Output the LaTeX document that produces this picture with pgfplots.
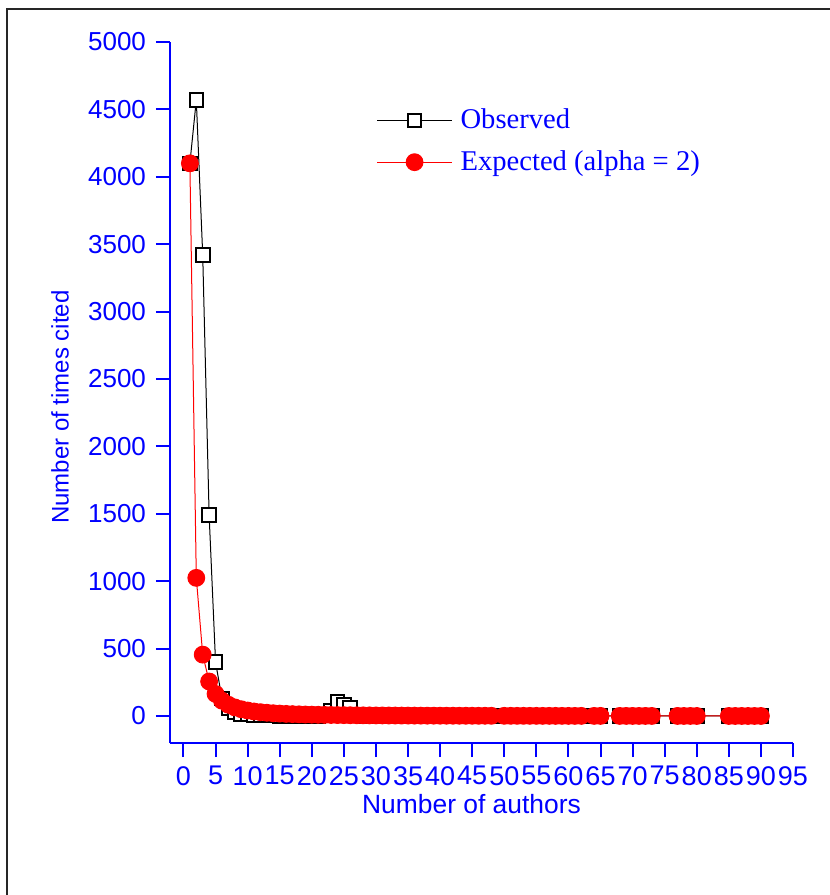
\documentclass[border=0pt]{standalone}
\usepackage{fontspec}
\setmainfont{Liberation Serif}
\setsansfont{Liberation Sans}
\usepackage{pgfplots}
\pgfplotsset{compat=1.18}
\definecolor{axblue}{RGB}{0,0,255}
\definecolor{obsred}{RGB}{255,0,0}

\begin{document}
\begin{tikzpicture}
% page = 830x895 px, 1px = 0.5pt, axis corner at px (170,743)
\useasboundingbox (-85pt,-76pt) rectangle (330pt,371.5pt);
\begin{axis}[
  at={(0,0)}, anchor=south west,
  scale only axis,
  width=311.5pt, height=350.5pt,
  xmin=-2.1, xmax=95,
  ymin=-200, ymax=5000,
  axis x line*=bottom, axis y line*=left,
  x axis line style={-}, y axis line style={-},
  axis line style={axblue, line width=1pt},
  tick style={axblue, line width=1pt},
  major tick length=7pt,
  tick align=outside,
  xtick={0,5,...,95},
  ytick={0,500,...,5000},
  /pgf/number format/assume math mode=true,
  /pgf/number format/set thousands separator={},
  xticklabel style={font=\sffamily\fontsize{13.5}{15}\selectfont, text=axblue, inner sep=1pt, yshift=-3.5pt},
  yticklabel style={font=\sffamily\fontsize{13}{15}\selectfont, text=axblue, xshift=-1.5pt},
  xlabel={Number of authors},
  ylabel={Number of times cited},
  xlabel style={font=\sffamily\fontsize{13.2}{15}\selectfont, text=axblue, xshift=-5pt},
  ylabel style={font=\sffamily\fontsize{12}{14}\selectfont, text=axblue,
    at={(axis description cs:-0.1766,0.4793)}, anchor=center},
  legend style={at={(axis cs:29.1,4566)}, anchor=north west, draw=none, fill=none,
    font=\rmfamily\fontsize{14.3}{16}\selectfont, text=axblue,
    row sep=5.5pt, legend cell align=left},
  legend image code/.code={%
    \draw[mark repeat=2,mark phase=2,#1] plot coordinates {(0pt,0pt) (18.75pt,0pt) (37.5pt,0pt)};
    \path (39.5pt,0pt);},
  clip=false,
]
\addplot[black, line width=0.5pt, mark=square*, mark size=3.4pt,
  mark options={fill=white, draw=black, line width=1pt}] table {
x y
1 4100
2 4570
3 3420
4 1490
5 400
6 130
7 60
8 30
9 15
10 10
11 6
12 4
13 3
14 3
15 2
16 2
17 2
18 1
19 1
20 1
21 1
22 3
23 40
24 105
25 80
26 60
27 4
28 2
29 2
30 1
31 1
32 1
33 1
34 1
35 1
36 1
37 1
38 1
39 1
40 1
41 1
42 1
43 1
44 1
45 1
46 1
47 1
48 1
50 1
51 1
52 1
53 1
54 1
55 1
56 1
57 1
58 1
59 1
60 1
61 1
62 1
64 1
65 1
68 1
69 1
70 1
71 1
72 1
73 1
77 1
78 1
79 1
80 1
85 1
86 1
87 1
88 1
89 1
90 1
};
\addlegendentry{Observed}
\addplot[obsred, line width=0.5pt, mark=*, mark size=4.2pt,
  mark options={fill=obsred, draw=obsred}] table {
x y
1 4100
2 1025
3 455.6
4 256.3
5 164
6 113.9
7 83.7
8 64.1
9 50.6
10 41
11 33.9
12 28.5
13 24.3
14 20.9
15 18.2
16 16
17 14.2
18 12.7
19 11.4
20 10.3
21 9.3
22 8.5
23 7.8
24 7.1
25 6.6
26 6.1
27 5.6
28 5.2
29 4.9
30 4.6
31 4.3
32 4
33 3.8
34 3.5
35 3.3
36 3.2
37 3
38 2.8
39 2.7
40 2.6
41 2.4
42 2.3
43 2.2
44 2.1
45 2
46 1.9
47 1.9
48 1.8
50 1.6
51 1.6
52 1.5
53 1.5
54 1.4
55 1.4
56 1.3
57 1.3
58 1.2
59 1.2
60 1.1
61 1.1
62 1.1
64 1
65 1
68 0.9
69 0.9
70 0.8
71 0.8
72 0.8
73 0.8
77 0.7
78 0.7
79 0.7
80 0.6
85 0.6
86 0.6
87 0.5
88 0.5
89 0.5
90 0.5
};
\addlegendentry{Expected (alpha = 2)}
\end{axis}
% outer frame (right and bottom edges lie beyond the page)
\draw[black!85, line width=1pt] (-81.5pt,-76pt) -- (-81.5pt,367pt) -- (330pt,367pt);
\end{tikzpicture}
\end{document}
